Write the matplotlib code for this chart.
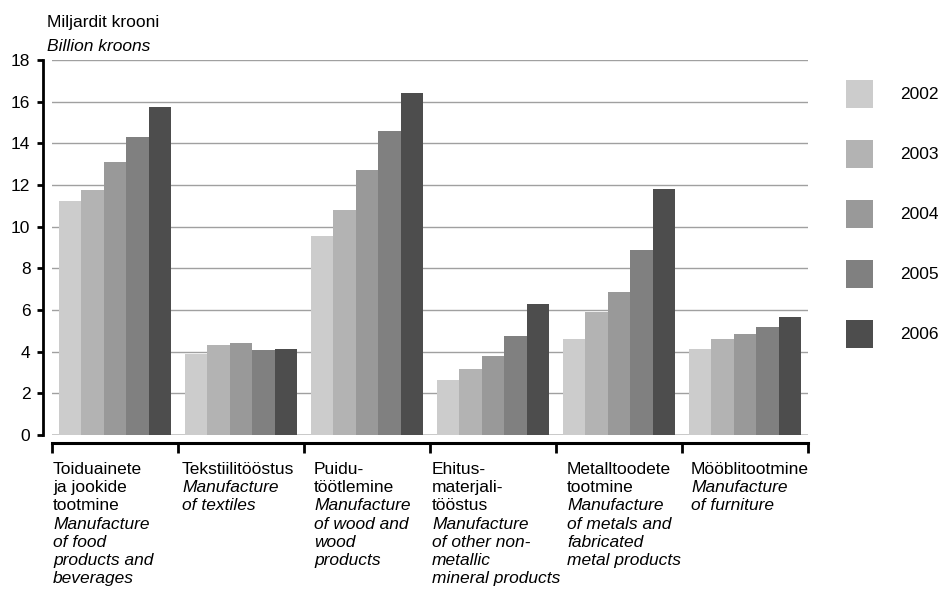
import matplotlib.pyplot as plt
import numpy as np
from matplotlib.transforms import blended_transform_factory, offset_copy

plt.rcParams['font.family'] = ['Liberation Sans', 'DejaVu Sans']

# Data (billion kroons)
years = ['2002', '2003', '2004', '2005', '2006']
cat_et = ['Toiduainete\nja jookide\ntootmine', 'Tekstiilitööstus', 'Puidu-\ntöötlemine',
          'Ehitus-\nmaterjali-\ntööstus', 'Metalltoodete\ntootmine', 'Mööblitootmine']
cat_en = ['Manufacture\nof food\nproducts and\nbeverages', 'Manufacture\nof textiles',
          'Manufacture\nof wood and\nwood\nproducts',
          'Manufacture\nof other non-\nmetallic\nmineral products',
          'Manufacture\nof metals and\nfabricated\nmetal products', 'Manufacture\nof furniture']
v2002 = [11.25, 3.9, 9.55, 2.65, 4.6, 4.12]
v2003 = [11.75, 4.32, 10.8, 3.17, 5.9, 4.6]
v2004 = [13.1, 4.42, 12.7, 3.8, 6.86, 4.85]
v2005 = [14.3, 4.08, 14.6, 4.75, 8.88, 5.18]
v2006 = [15.75, 4.13, 16.4, 6.3, 11.8, 5.66]
values = [v2002, v2003, v2004, v2005, v2006]

colors = ['#cccccc', '#b3b3b3', '#999999', '#808080', '#4d4d4d']
fs = 12.5

fig = plt.figure(figsize=(9.4, 5.96), dpi=100)
ax = fig.add_axes([52 / 940, 1 - 435 / 596, 756 / 940, 375 / 596])

x = np.arange(len(cat_et))
gap = 7 / 126
w = (1 - 2 * gap) / len(years)
handles = []
for k, (yr, vals, c) in enumerate(zip(years, values, colors)):
    b = ax.bar(x + gap + k * w, vals, width=w, align='edge', color=c, label=yr, zorder=3)
    handles.append(b)

ax.set_xlim(0, 6)
ax.set_ylim(0, 18)
ax.set_yticks(np.arange(0, 19, 2))
ax.set_xticks(np.arange(0, 7))
ax.set_xticklabels([])

for g in np.arange(2, 19, 2):
    ax.axhline(g, color='#a0a0a0', lw=1.0, zorder=1)
ax.axhline(0, color='#c4c4c4', lw=2.0, zorder=1)

for s in ['top', 'right']:
    ax.spines[s].set_visible(False)
ax.spines['left'].set_position(('outward', 6.5))
ax.spines['left'].set_bounds(0, 18)
ax.spines['left'].set_linewidth(2)
ax.spines['bottom'].set_position(('outward', 6))
ax.spines['bottom'].set_bounds(0, 6)
ax.spines['bottom'].set_linewidth(2.2)
ax.tick_params(axis='y', direction='out', length=4, width=2, labelsize=fs, pad=5)
ax.tick_params(axis='x', direction='out', length=7, width=2)

# category labels, Estonian upright + English italic
pad_px = [1, 4, 10, 2, 11, 9]
trans = blended_transform_factory(ax.transData, fig.transFigure)
first_base = 1 - 474 / 596
pitch = 18.2 / 596
for i in range(len(cat_et)):
    t = offset_copy(trans, fig=fig, x=pad_px[i], y=0, units='dots')
    lines = [(l, 'normal') for l in cat_et[i].split('\n')] + \
            [(l, 'italic') for l in cat_en[i].split('\n')]
    for j, (txt, st) in enumerate(lines):
        ax.text(i, first_base - j * pitch, txt, transform=t, ha='left', va='baseline',
                fontsize=fs, style=st)

fig.text(47 / 940, 1 - 27 / 596, 'Miljardit krooni', fontsize=fs, va='baseline')
fig.text(47 / 940, 1 - 51 / 596, 'Billion kroons', fontsize=fs, style='italic', va='baseline')

ax.legend(handles=handles, loc='upper left', bbox_to_anchor=(846 / 940, 1 - 80 / 596),
          bbox_transform=fig.transFigure, frameon=False, fontsize=fs, borderpad=0,
          borderaxespad=0, handlelength=1.56, handleheight=2.1, handletextpad=1.55,
          labelspacing=1.84)

plt.savefig('out.png', dpi=100)
